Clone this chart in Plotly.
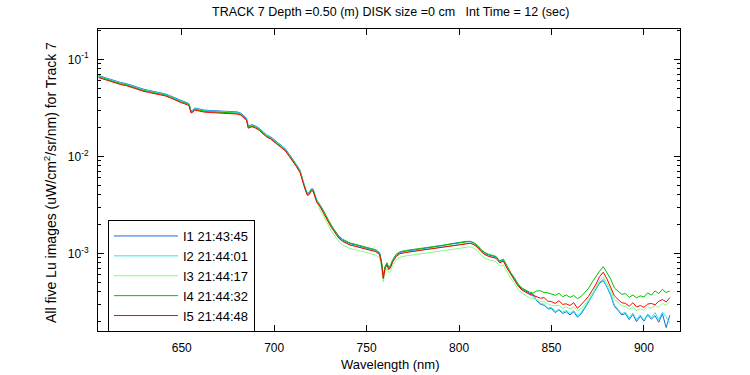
import plotly.graph_objects as go

wavelength = [605, 608, 611, 614, 617, 620, 623, 626, 629, 632, 635, 638, 641, 644, 647, 650, 653,
              654, 655, 656, 657, 659, 662, 665, 668, 671, 674, 677, 680,
              682, 684, 685, 686, 687, 688,
              690, 692, 694, 696, 698, 700, 702, 704, 706, 708, 710, 712, 714,
              715, 716, 717, 718, 719, 720, 721, 722, 723,
              725, 727, 729, 731, 733, 735, 737, 739, 741,
              744, 747, 750, 753,
              755, 757, 758, 759, 760, 761, 762, 763, 764, 766, 768,
              771, 774, 777, 780, 783, 786, 789, 792, 795, 798, 801, 804,
              806, 808, 810, 812, 814, 816, 818, 820, 822, 823, 824,
              826, 828, 830, 832, 834, 836, 838, 840,
              842, 844, 846, 848, 850, 852, 854, 856, 858, 860, 862, 864, 866, 868, 870, 872, 874,
              876, 878, 880, 882, 884, 886, 888, 890, 892, 894, 896, 898, 900, 902, 904, 906, 908,
              910, 912, 914]

lu_i1 = [0.0680, 0.0651, 0.0624, 0.0596, 0.0576, 0.0562, 0.0538, 0.0510, 0.0494, 0.0479, 0.0468, 0.0457,
         0.0441, 0.0419, 0.0394, 0.0374, 0.0357, 0.0347, 0.0294, 0.0299, 0.0315, 0.0309, 0.0300, 0.0297,
         0.0295, 0.0293, 0.0291, 0.0290, 0.0287, 0.0278, 0.0259, 0.0248, 0.0205, 0.0208, 0.0212, 0.0205,
         0.0194, 0.0179, 0.0166, 0.0159, 0.0148, 0.0139, 0.0130, 0.0120, 0.0106, 0.00940, 0.00824, 0.00714,
         0.00630, 0.00531, 0.00462, 0.00415, 0.00425, 0.00462, 0.00462, 0.00399, 0.00355,
         0.00307, 0.00266, 0.00222, 0.00190, 0.00167, 0.00147, 0.00137, 0.00131, 0.00126, 0.00122, 0.00117,
         0.00113, 0.00110, 0.00107, 0.00100, 0.00082, 0.00057, 0.00072, 0.00078, 0.00070, 0.00074, 0.00083,
         0.00096, 0.00102, 0.00105, 0.00107, 0.00109, 0.00111, 0.00113, 0.00116, 0.00118, 0.00121, 0.00125,
         0.00128, 0.00131, 0.00133, 0.00133, 0.00127, 0.00118, 0.00107, 0.00100, 0.00096, 0.00094, 0.00092,
         0.00082, 0.00084, 0.00085, 0.00072, 0.00062, 0.00055, 0.00047, 0.00043, 0.00041, 0.00039, 0.00038,
         0.000325, 0.000300, 0.000292, 0.000268, 0.000270, 0.000245, 0.000262, 0.000240, 0.000250, 0.000232,
         0.000250, 0.000220, 0.000238, 0.000272, 0.000318, 0.000360, 0.000425, 0.000495, 0.000525, 0.000450,
         0.000370, 0.000285, 0.000258, 0.000232, 0.000240, 0.000208, 0.000235, 0.000198, 0.000225, 0.000200,
         0.000232, 0.000210, 0.000228, 0.000195, 0.000238, 0.000172, 0.000230]

lu_i2 = [0.0671, 0.0642, 0.0615, 0.0588, 0.0568, 0.0554, 0.0530, 0.0503, 0.0486, 0.0472, 0.0462, 0.0450,
         0.0435, 0.0413, 0.0388, 0.0368, 0.0352, 0.0342, 0.0290, 0.0295, 0.0311, 0.0304, 0.0296, 0.0293,
         0.0291, 0.0289, 0.0287, 0.0286, 0.0283, 0.0274, 0.0256, 0.0244, 0.0202, 0.0205, 0.0209, 0.0202,
         0.0191, 0.0176, 0.0164, 0.0156, 0.0146, 0.0137, 0.0128, 0.0118, 0.0105, 0.00926, 0.00812, 0.00704,
         0.00621, 0.00524, 0.00455, 0.00409, 0.00419, 0.00455, 0.00455, 0.00393, 0.00350,
         0.00301, 0.00261, 0.00218, 0.00186, 0.00164, 0.00144, 0.00134, 0.00128, 0.00123, 0.00119, 0.00115,
         0.00111, 0.00108, 0.00105, 0.00098, 0.00081, 0.00056, 0.00071, 0.00077, 0.00069, 0.00073, 0.00082,
         0.00094, 0.00100, 0.00103, 0.00105, 0.00107, 0.00109, 0.00111, 0.00113, 0.00115, 0.00117, 0.00120,
         0.00122, 0.00125, 0.00127, 0.00128, 0.00124, 0.00116, 0.00105, 0.00098, 0.00094, 0.00092, 0.00090,
         0.00081, 0.00083, 0.00084, 0.00071, 0.00061, 0.00054, 0.00046, 0.00042, 0.00040, 0.00038, 0.00036,
         0.000330, 0.000305, 0.000298, 0.000272, 0.000278, 0.000252, 0.000265, 0.000248, 0.000258, 0.000240,
         0.000258, 0.000228, 0.000245, 0.000280, 0.000322, 0.000368, 0.000432, 0.000505, 0.000540, 0.000462,
         0.000385, 0.000295, 0.000268, 0.000238, 0.000248, 0.000215, 0.000242, 0.000208, 0.000232, 0.000205,
         0.000238, 0.000218, 0.000245, 0.000208, 0.000248, 0.000222, 0.000192]

lu_i3 = [0.0658, 0.0629, 0.0603, 0.0577, 0.0557, 0.0543, 0.0520, 0.0493, 0.0477, 0.0463, 0.0453, 0.0442,
         0.0426, 0.0405, 0.0381, 0.0361, 0.0345, 0.0335, 0.0284, 0.0289, 0.0305, 0.0298, 0.0290, 0.0287,
         0.0285, 0.0283, 0.0281, 0.0280, 0.0277, 0.0269, 0.0251, 0.0240, 0.0198, 0.0201, 0.0205, 0.0198,
         0.0188, 0.0173, 0.0160, 0.0153, 0.0143, 0.0134, 0.0126, 0.0116, 0.0103, 0.00908, 0.00797, 0.00690,
         0.00609, 0.00514, 0.00447, 0.00401, 0.00411, 0.00447, 0.00447, 0.00386, 0.00343,
         0.00274, 0.00237, 0.00199, 0.00169, 0.00149, 0.00132, 0.00122, 0.00117, 0.00112, 0.00109, 0.00105,
         0.00101, 0.00098, 0.00096, 0.00089, 0.00074, 0.00051, 0.00064, 0.00070, 0.00063, 0.00066, 0.00075,
         0.00086, 0.00091, 0.00094, 0.00096, 0.00098, 0.00099, 0.00101, 0.00103, 0.00105, 0.00107, 0.00109,
         0.00111, 0.00114, 0.00116, 0.00117, 0.00113, 0.00106, 0.00096, 0.00089, 0.00086, 0.00084, 0.00082,
         0.00074, 0.00075, 0.00076, 0.00064, 0.00055, 0.00049, 0.00042, 0.00039, 0.00037, 0.00035, 0.00034,
         0.000335, 0.000320, 0.000315, 0.000302, 0.000292, 0.000288, 0.000292, 0.000272, 0.000280, 0.000268,
         0.000280, 0.000255, 0.000268, 0.000300, 0.000332, 0.000385, 0.000445, 0.000530, 0.000570, 0.000495,
         0.000420, 0.000335, 0.000310, 0.000288, 0.000285, 0.000265, 0.000280, 0.000258, 0.000268, 0.000260,
         0.000282, 0.000272, 0.000290, 0.000278, 0.000305, 0.000292, 0.000318]

lu_i4 = [0.0661, 0.0632, 0.0606, 0.0579, 0.0560, 0.0546, 0.0522, 0.0496, 0.0479, 0.0465, 0.0455, 0.0444,
         0.0428, 0.0407, 0.0383, 0.0363, 0.0347, 0.0337, 0.0286, 0.0291, 0.0306, 0.0300, 0.0292, 0.0289,
         0.0287, 0.0285, 0.0283, 0.0282, 0.0278, 0.0270, 0.0252, 0.0241, 0.0199, 0.0202, 0.0206, 0.0199,
         0.0189, 0.0173, 0.0161, 0.0154, 0.0144, 0.0135, 0.0126, 0.0116, 0.0103, 0.00913, 0.00801, 0.00694,
         0.00612, 0.00516, 0.00449, 0.00403, 0.00413, 0.00449, 0.00449, 0.00388, 0.00345,
         0.00313, 0.00271, 0.00227, 0.00193, 0.00170, 0.00150, 0.00140, 0.00133, 0.00128, 0.00124, 0.00120,
         0.00116, 0.00112, 0.00109, 0.00102, 0.00084, 0.00058, 0.00074, 0.00080, 0.00071, 0.00076, 0.00085,
         0.00098, 0.00104, 0.00107, 0.00109, 0.00111, 0.00113, 0.00116, 0.00118, 0.00120, 0.00122, 0.00125,
         0.00127, 0.00130, 0.00132, 0.00133, 0.00129, 0.00121, 0.00109, 0.00102, 0.00098, 0.00096, 0.00093,
         0.00084, 0.00086, 0.00087, 0.00074, 0.00063, 0.00056, 0.00048, 0.00044, 0.00042, 0.00040, 0.00039,
         0.000410, 0.000412, 0.000395, 0.000392, 0.000382, 0.000370, 0.000388, 0.000358, 0.000372, 0.000352,
         0.000368, 0.000342, 0.000360, 0.000398, 0.000435, 0.000505, 0.000585, 0.000655, 0.000730, 0.000625,
         0.000545, 0.000440, 0.000405, 0.000378, 0.000385, 0.000352, 0.000372, 0.000348, 0.000365, 0.000355,
         0.000392, 0.000372, 0.000410, 0.000385, 0.000425, 0.000395, 0.000410]

lu_i5 = [0.0648, 0.0620, 0.0594, 0.0568, 0.0549, 0.0535, 0.0512, 0.0486, 0.0470, 0.0456, 0.0446, 0.0435,
         0.0420, 0.0399, 0.0375, 0.0356, 0.0340, 0.0330, 0.0280, 0.0285, 0.0300, 0.0294, 0.0286, 0.0283,
         0.0281, 0.0279, 0.0277, 0.0276, 0.0273, 0.0265, 0.0247, 0.0236, 0.0195, 0.0198, 0.0202, 0.0195,
         0.0185, 0.0170, 0.0158, 0.0151, 0.0141, 0.0132, 0.0124, 0.0114, 0.0101, 0.00895, 0.00785, 0.00680,
         0.00600, 0.00506, 0.00440, 0.00395, 0.00405, 0.00440, 0.00440, 0.00380, 0.00338,
         0.00298, 0.00258, 0.00216, 0.00184, 0.00162, 0.00143, 0.00133, 0.00127, 0.00122, 0.00118, 0.00114,
         0.00110, 0.00107, 0.00104, 0.00097, 0.00080, 0.00055, 0.00070, 0.00076, 0.00068, 0.00072, 0.00081,
         0.00093, 0.00099, 0.00102, 0.00104, 0.00106, 0.00108, 0.00110, 0.00112, 0.00114, 0.00116, 0.00119,
         0.00121, 0.00124, 0.00126, 0.00127, 0.00123, 0.00115, 0.00104, 0.00097, 0.00093, 0.00091, 0.00089,
         0.00080, 0.00082, 0.00083, 0.00070, 0.00060, 0.00053, 0.00046, 0.00042, 0.00040, 0.00038, 0.00037,
         0.000360, 0.000345, 0.000350, 0.000322, 0.000318, 0.000305, 0.000325, 0.000298, 0.000302, 0.000290,
         0.000310, 0.000272, 0.000295, 0.000325, 0.000360, 0.000415, 0.000480, 0.000575, 0.000640, 0.000545,
         0.000455, 0.000365, 0.000335, 0.000310, 0.000305, 0.000285, 0.000310, 0.000280, 0.000290, 0.000278,
         0.000300, 0.000305, 0.000295, 0.000320, 0.000335, 0.000315, 0.000350]

series_names = ["I1 21:43:45", "I2 21:44:01", "I3 21:44:17", "I4 21:44:32", "I5 21:44:48"]
series_colors = ["#0f6fdc", "#30e4e8", "#80ff80", "#00c000", "#ff0000"]

x_tick_vals = [650, 700, 750, 800, 850, 900]
y_major_vals = [1e-3, 1e-2, 1e-1]
y_major_text = ["10<sup>-3</sup>", "10<sup>-2</sup>", "10<sup>-1</sup>"]
y_minor_vals = [m * 10.0 ** e for e in (-4, -3, -2, -1) for m in range(2, 10)]

title_text = "TRACK 7 Depth =0.50 (m) DISK size =0 cm\u00a0\u00a0 Int Time = 12 (sec)"
x_label = "Wavelength (nm)"
y_label = "All five Lu images (uW/cm<sup>2</sup>/sr/nm) for Track 7"

FONT = "Liberation Sans, Arial, Helvetica, sans-serif"

fig = go.Figure()
for name, color, vals in zip(series_names, series_colors, [lu_i1, lu_i2, lu_i3, lu_i4, lu_i5]):
    fig.add_trace(go.Scatter(x=wavelength, y=vals, mode="lines", name=name,
                             line=dict(color=color, width=1)))

# plot box in page pixels: left 98, right 680, top 29, bottom 331
W, H = 750, 375
L, T, R, B = 98, 29, 70, 44
pw, ph = W - L - R, H - T - B


def px_x(page_x):
    return (page_x - L) / pw


def px_y(page_y):
    return (H - B - page_y) / ph


fig.update_layout(
    width=W, height=H,
    margin=dict(l=L, r=R, t=T, b=B, pad=0),
    paper_bgcolor="white", plot_bgcolor="white",
    font=dict(family=FONT, size=12, color="black"),
    showlegend=True,
    legend=dict(x=px_x(108), y=px_y(220), xanchor="left", yanchor="top",
                bgcolor="white", bordercolor="black", borderwidth=1,
                font=dict(family=FONT, size=13, color="black"),
                itemwidth=64, tracegroupgap=0),
    xaxis=dict(range=[604.7, 919.5], tickvals=x_tick_vals, ticks="inside", ticklen=6,
               tickcolor="black", showline=True, linecolor="black", linewidth=1, mirror="allticks",
               showgrid=False, zeroline=False, tickfont=dict(size=12), ticklabelstandoff=6),
    yaxis=dict(type="log", range=[-3.80, -0.6876], tickvals=y_major_vals, ticktext=y_major_text,
               ticks="inside", ticklen=6, tickcolor="black", showline=True, linecolor="black",
               linewidth=1, mirror="allticks", showgrid=False, zeroline=False,
               tickfont=dict(size=12), ticklabelstandoff=6,
               minor=dict(tickvals=y_minor_vals, ticks="inside", ticklen=3, tickcolor="black",
                          showgrid=False)),
    annotations=[
        dict(text=title_text, xref="paper", yref="paper", x=px_x(390), y=px_y(12),
             xanchor="center", yanchor="middle", showarrow=False, font=dict(size=12.5)),
        dict(text=x_label, xref="paper", yref="paper", x=px_x(390), y=px_y(364),
             xanchor="center", yanchor="middle", showarrow=False, font=dict(size=13)),
        dict(text=y_label, xref="paper", yref="paper", x=px_x(50), y=px_y(183),
             xanchor="center", yanchor="middle", showarrow=False, textangle=-90,
             font=dict(size=14)),
    ],
)

# remove the default 8 px page margin so the figure sits at the window origin
fig.write_html("out.html", config={"displayModeBar": False},
               post_script="document.body.style.margin='0';")
